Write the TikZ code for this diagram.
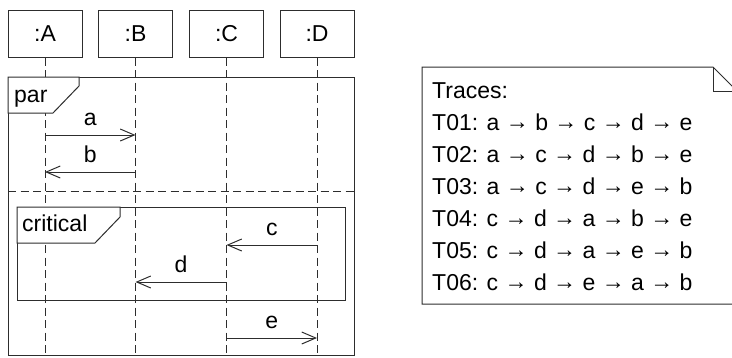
\documentclass[tikz,border=0pt]{standalone}
\usepackage{fontspec}
\setmainfont{Liberation Sans}
\usepackage{xcolor}
\usepackage{graphicx}
\definecolor{umlline}{RGB}{45,45,45}
\usepackage{tikz}
\usetikzlibrary{arrows.meta, positioning}
\newcommand{\tarr}{\raisebox{1.5pt}{→}}

\begin{document}
\begin{tikzpicture}[x=1pt, y=-1pt,
  lifehead/.style={rectangle, draw=umlline, line width=1pt, minimum width=74pt, minimum height=47pt, inner sep=0pt, font=\fontsize{23}{26}\selectfont},
  lifeline/.style={draw=umlline, line width=1pt, dash pattern=on 8pt off 4.5pt},
  frame/.style={draw=umlline, line width=1pt},
  tag/.style={draw=umlline, line width=1pt, fill=white},
  framelabel/.style={anchor=base west, inner sep=0pt, font=\fontsize{23}{26}\selectfont},
  msg/.style={draw=umlline, line width=1pt, -{Straight Barb[length=14pt, width=12pt, line width=1pt]}},
  msglabel/.style={anchor=base, yshift=9.5pt, inner sep=0pt, font=\fontsize{23}{26}\selectfont},
  note/.style={draw=umlline, line width=1pt},
  tracetext/.style={anchor=north west, align=left, inner sep=0pt, font=\fontsize{23}{32}\selectfont}
]
\clip (0,0) rectangle (732,357);

% Lifelines
\node[lifehead] (A) at (45,33.5) {:A};
\node[lifehead] (B) at (135.5,33.5) {:B};
\node[lifehead] (C) at (226.5,33.5) {:C};
\node[lifehead] (D) at (317,33.5) {:D};

\coordinate (bottom) at (0,355);
\draw[lifeline] (A) -- (A |- bottom);
\draw[lifeline] (B) -- (B |- bottom);
\draw[lifeline] (C) -- (C |- bottom);
\draw[lifeline] (D) -- (D |- bottom);

% par fragment
\draw[frame] (8,77) rectangle (354,355);
\draw[tag] (8,77) -- (8,113) -- (53,113) -- (79,86) -- (79,77) -- cycle;
\node[framelabel] (parlbl) at (14,102) {par};
\draw[lifeline] (8,191) -- (354,191);

% critical region
\draw[frame] (17,207) rectangle (345,300);
\draw[tag] (17,207) -- (17,243) -- (95,243) -- (120,217) -- (120,207) -- cycle;
\node[framelabel] (critlbl) at (22,231) {critical};

% Messages
\coordinate (ya) at (0,135);
\coordinate (yb) at (0,172);
\coordinate (yc) at (0,245);
\coordinate (yd) at (0,282);
\coordinate (ye) at (0,338);

\draw[msg] (A |- ya) -- node[msglabel] {a} (B |- ya);
\draw[msg] (B |- yb) -- node[msglabel] {b} (A |- yb);
\draw[msg] (D |- yc) -- node[msglabel] {c} (C |- yc);
\draw[msg] (C |- yd) -- node[msglabel] {d} (B |- yd);
\draw[msg] (C |- ye) -- node[msglabel] {e} (D |- ye);

% Note with traces
\draw[note] (422,67) -- (713,67) -- (737,91) -- (737,304) -- (422,304) -- cycle;
\draw[note] (713,67) -- (713,91) -- (737,91);
\node[tracetext] (traces) at (432,82.5) {Traces:\\
T01: a \tarr{} b \tarr{} c \tarr{} d \tarr{} e\\
T02: a \tarr{} c \tarr{} d \tarr{} b \tarr{} e\\
T03: a \tarr{} c \tarr{} d \tarr{} e \tarr{} b\\
T04: c \tarr{} d \tarr{} a \tarr{} b \tarr{} e\\
T05: c \tarr{} d \tarr{} a \tarr{} e \tarr{} b\\
T06: c \tarr{} d \tarr{} e \tarr{} a \tarr{} b};

\end{tikzpicture}
\end{document}
